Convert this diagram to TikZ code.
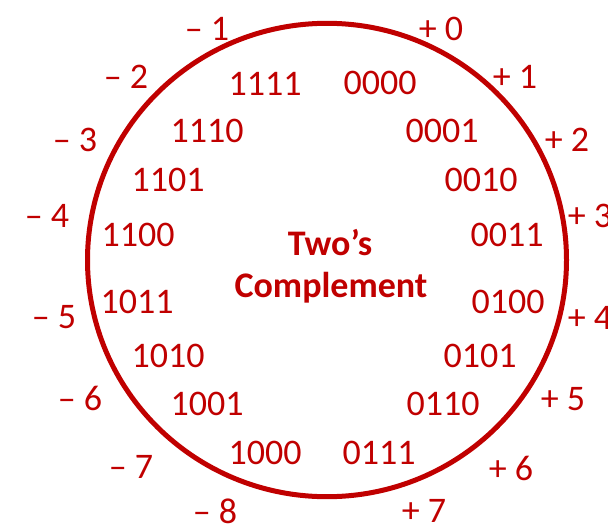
\documentclass[tikz,border=0pt]{standalone}
\usepackage{fontspec}
\setmainfont{Carlito}
\usepackage{tikz}
\usetikzlibrary{positioning}
\definecolor{DarkRed}{RGB}{192,0,0}

\begin{document}
\begin{tikzpicture}[x=1pt, y=-1pt,
	bits/.style={text=DarkRed, inner sep=0pt, font=\fontsize{36}{42}\selectfont},
	val/.style={text=DarkRed, inner sep=0pt, font=\fontsize{36}{42}\selectfont},
	title/.style={text=DarkRed, inner sep=0pt, anchor=base, font=\fontsize{36}{42}\selectfont\bfseries},
	ring/.style={draw=DarkRed, line width=5pt}]

	\useasboundingbox (0,0) rectangle (608,525);

	% the ring
	\coordinate (c) at (327,260);
	\draw[ring] (c) ellipse [x radius=239.5, y radius=236.7];

	% bit patterns inside
	\node[bits] (b0)  at (380, 83) {0000};
	\node[bits] (b1)  at (442,131) {0001};
	\node[bits] (b2)  at (481,180) {0010};
	\node[bits] (b3)  at (507,235) {0011};
	\node[bits] (b4)  at (508,302) {0100};
	\node[bits] (b5)  at (480,356) {0101};
	\node[bits] (b6)  at (443,404) {0110};
	\node[bits] (b7)  at (379,453) {0111};
	\node[bits] (b8)  at (265,453) {1000};
	\node[bits] (b9)  at (207,404) {1001};
	\node[bits] (b10) at (168,356) {1010};
	\node[bits] (b11) at (137,302) {1011};
	\node[bits] (b12) at (138,235) {1100};
	\node[bits] (b13) at (168,180) {1101};
	\node[bits] (b14) at (207,131) {1110};
	\node[bits] (b15) at (265, 84) {1111};

	% values outside
	\node[val] (p0) at (441, 29) {+ 0};
	\node[val] (p1) at (515, 77) {+ 1};
	\node[val] (p2) at (567,140) {+ 2};
	\node[val] (p3) at (590,216) {+ 3};
	\node[val] (p4) at (590,318) {+ 4};
	\node[val] (p5) at (563,399) {+ 5};
	\node[val] (p6) at (511,468) {+ 6};
	\node[val] (p7) at (424,511) {+ 7};
	\node[val] (m8) at (215,511) {– 8};
	\node[val] (m7) at (131,467) {– 7};
	\node[val] (m6) at ( 80,398) {– 6};
	\node[val] (m5) at ( 54,317) {– 5};
	\node[val] (m4) at ( 47,216) {– 4};
	\node[val] (m3) at ( 75,140) {– 3};
	\node[val] (m2) at (126, 77) {– 2};
	\node[val] (m1) at (207, 29) {– 1};

	\node[title] (t1) at (330,255) {Two’s};
	\node[title] (t2) at (331,297) {Complement};
\end{tikzpicture}
\end{document}
